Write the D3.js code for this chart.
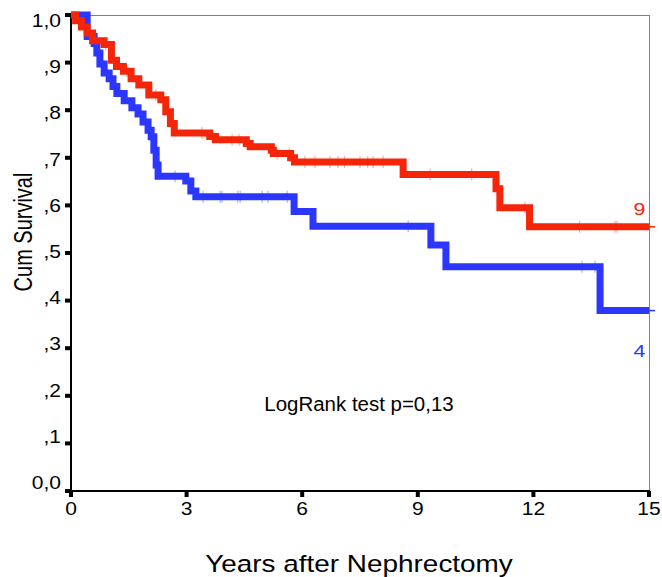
<!DOCTYPE html>
<html>
<head>
<meta charset="utf-8">
<script src="https://cdn.jsdelivr.net/npm/d3@7"></script>
<style>
  body { margin: 0; background: #fff; }
  text { font-family: "Liberation Sans", Arial, sans-serif; }
</style>
</head>
<body>
<div id="grafico"></div>
<script>
// curvas de sobrevida: [anos, sobrevida acumulada] (degraus)
var grupo9 = [[0,1.0],[0.12,0.988],[0.27,0.975],[0.42,0.962],[0.56,0.946],[0.86,0.938],[1.05,0.905],
  [1.18,0.892],[1.36,0.882],[1.56,0.866],[1.76,0.853],[2.02,0.832],[2.33,0.822],[2.46,0.797],
  [2.58,0.772],[2.68,0.752],[3.6,0.745],[3.75,0.738],[4.55,0.73],[4.65,0.723],[5.2,0.716],
  [5.25,0.709],[5.7,0.70],[5.8,0.691],[8.62,0.665],[11.03,0.635],[11.13,0.595],[11.9,0.555]];
var grupo4 = [[0,1.0],[0.42,0.955],[0.6,0.94],[0.67,0.92],[0.75,0.897],[0.86,0.878],[0.99,0.866],
  [1.09,0.85],[1.19,0.835],[1.38,0.82],[1.58,0.805],[1.74,0.792],[1.87,0.775],[2.0,0.758],
  [2.08,0.744],[2.15,0.716],[2.21,0.685],[2.26,0.661],[2.98,0.651],[3.11,0.63],[3.24,0.618],
  [5.79,0.587],[6.28,0.556],[9.34,0.517],[9.73,0.471],[13.73,0.379]];
// censuras (anos)
var censura9 = [0.9,1.45,2.2,3.4,3.66,4.18,4.36,5.35,5.66,6.07,6.33,6.72,6.93,7.1,7.5,7.7,7.84,
  8.1,9.32,10.4,11.78,13.2,14.12,14.17];
var censura4 = [2.7,3.43,3.87,3.92,4.33,4.39,4.96,5.11,5.61,8.75,13.26,13.6];
var ticksX = [0,3,6,9,12,15];
var ticksY = [0,0.1,0.2,0.3,0.4,0.5,0.6,0.7,0.8,0.9,1.0];

var width = 662, height = 577,
    fim = 15;

var vermelho = "#f5250a", azul = "#2b37ff";

var svg = d3.select("#grafico").append("svg")
  .attr("width", width)
  .attr("height", height);

var x = d3.scaleLinear().domain([0, 15]).range([71, 649]);
var y = d3.scaleLinear().domain([0, 1]).range([491, 15]);
// os rótulos do eixo y não caem exatamente nos ticks
var yRot = d3.scaleLinear().domain([0, 1]).range([483, 21]);

function texto(tx, ty, s, sx, tam, anchor, cor) {
  return svg.append("text")
    .attr("transform", "translate(" + tx + "," + ty + ") scale(" + sx + ",1)")
    .attr("font-size", tam)
    .attr("text-anchor", anchor)
    .attr("fill", cor || "#000")
    .text(s);
}

// moldura
svg.append("line").attr("x1", 71).attr("x2", 649).attr("y1", 15.5).attr("y2", 15.5)
  .attr("stroke", "#808080").attr("stroke-width", 1);
svg.append("line").attr("x1", 649.5).attr("x2", 649.5).attr("y1", 15).attr("y2", 491)
  .attr("stroke", "#808080").attr("stroke-width", 1);
svg.append("line").attr("x1", 71).attr("x2", 71).attr("y1", 15).attr("y2", 492)
  .attr("stroke", "#000").attr("stroke-width", 2);
svg.append("line").attr("x1", 70).attr("x2", 650).attr("y1", 491).attr("y2", 491)
  .attr("stroke", "#000").attr("stroke-width", 2);

// ticks
svg.selectAll(".ty").data(ticksY).enter().append("rect")
  .attr("x", 65).attr("width", 6)
  .attr("y", function(d) { return y(d) - 2; }).attr("height", 4)
  .attr("fill", "#000");
svg.selectAll(".tx").data(ticksX).enter().append("rect")
  .attr("x", function(d) { return x(d) - 2; }).attr("width", 4)
  .attr("y", 491).attr("height", 6)
  .attr("fill", "#000");

ticksY.forEach(function(d) {
  var s = d3.format(".1f")(d).replace(".", ",");
  if (d > 0 && d < 1) s = s.replace("0,", ",");
  texto(61, yRot(d) + 6, s, 1.2, 17.5, "end");
});
ticksX.forEach(function(d) {
  texto(x(d), 515, d, 1.2, 17.5, "middle");
});

// curvas
var linha = d3.line()
  .x(function(d) { return x(d[0]); })
  .y(function(d) { return y(d[1]); })
  .curve(d3.curveStepAfter);

function desenha(dados, censuras, cor) {
  var pts = dados.concat([[fim, dados[dados.length - 1][1]]]);
  svg.append("path")
    .attr("d", linha(pts))
    .attr("fill", "none")
    .attr("stroke", cor)
    .attr("stroke-width", 7)
    .attr("stroke-linejoin", "miter");
  // pequeno prolongamento após o fim
  var ult = dados[dados.length - 1][1];
  svg.append("line")
    .attr("x1", x(fim)).attr("x2", x(fim) + 6)
    .attr("y1", y(ult)).attr("y2", y(ult))
    .attr("stroke", cor).attr("stroke-width", 1.5);
  svg.append("g").selectAll("line").data(censuras).enter().append("line")
    .attr("x1", function(d) { return x(d); })
    .attr("x2", function(d) { return x(d); })
    .attr("y1", function(d) {
      var v = dados.filter(function(p) { return p[0] <= d; });
      return y(v[v.length - 1][1]) - 6;
    })
    .attr("y2", function(d) {
      var v = dados.filter(function(p) { return p[0] <= d; });
      return y(v[v.length - 1][1]) + 6;
    })
    .attr("stroke", cor)
    .attr("stroke-opacity", 0.4)
    .attr("stroke-width", 1.2);
}

desenha(grupo4, censura4, azul);
desenha(grupo9, censura9, vermelho);

texto(x(14.75), y(grupo9[grupo9.length - 1][1]) - 12, "9", 1.25, 17, "middle", vermelho);
texto(x(14.75), y(grupo4[grupo4.length - 1][1]) + 46, "4", 1.25, 17, "middle", azul);

// textos
texto(359, 411, "LogRank test p=0,13", 0.975, 21, "middle");
texto(359, 572, "Years after Nephrectomy", 1.13, 24.7, "middle");
svg.append("text")
  .attr("transform", "translate(32,232) scale(1.25,1) rotate(-90)")
  .attr("font-size", 20)
  .attr("text-anchor", "middle")
  .text("Cum Survival");
</script>
</body>
</html>
